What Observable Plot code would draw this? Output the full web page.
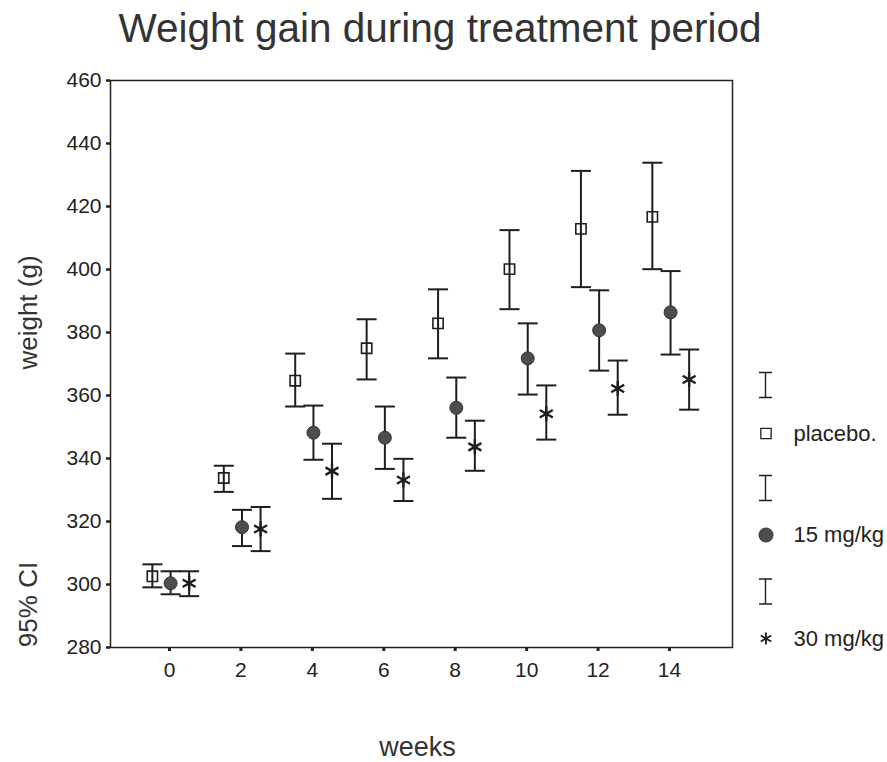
<!DOCTYPE html>
<html><head><meta charset="utf-8">
<script src="https://cdn.jsdelivr.net/npm/d3@7"></script>
<script src="https://cdn.jsdelivr.net/npm/@observablehq/plot@0.6"></script>
<style>
body{margin:0;background:#fff;}
#wrap{width:887px;height:762px;position:relative;font-family:"Liberation Sans",Arial,sans-serif;}
#title{height:62px;box-sizing:border-box;padding-top:8px;font-size:40.5px;line-height:40.5px;color:#333;text-align:center;width:880px;white-space:nowrap;}
#chart g[aria-label="y-axis tick label"], #chart g[aria-label="x-axis tick label"]{font-size:21px !important;}
</style></head><body>
<div id="wrap"><div id="title">Weight gain during treatment period</div><div id="chart"></div></div>
<script>
// ---- data ----
const weeks = [0, 2, 4, 6, 8, 10, 12, 14];
const seriesNames = ["placebo.", "15 mg/kg", "30 mg/kg"];
const placeboMean = [302.6, 333.8, 364.7, 375.0, 382.9, 400.1, 412.9, 416.7];
const placeboLo   = [299.1, 329.4, 356.5, 365.1, 371.8, 387.4, 394.4, 400.1];
const placeboHi   = [306.4, 337.7, 373.3, 384.2, 393.7, 412.5, 431.3, 433.9];
const mg15Mean = [300.4, 318.2, 348.2, 346.6, 356.1, 371.8, 380.7, 386.4];
const mg15Lo   = [296.9, 312.2, 339.6, 336.7, 346.6, 360.3, 367.9, 373.0];
const mg15Hi   = [304.2, 323.7, 356.8, 356.5, 365.7, 382.9, 393.4, 399.5];
const mg30Mean = [300.4, 317.6, 336.0, 333.2, 343.7, 354.2, 362.2, 365.1];
const mg30Lo   = [296.3, 310.6, 327.2, 326.5, 336.1, 346.0, 353.9, 355.5];
const mg30Hi   = [304.2, 324.6, 344.7, 339.9, 352.0, 363.2, 371.1, 374.6];
const xTickValues = [0, 2, 4, 6, 8, 10, 12, 14];
const yTickValues = [280, 300, 320, 340, 360, 380, 400, 420, 440, 460];

// ---- table for the library ----
const groupOffset = [-0.48, 0.03, 0.55]; // horizontal dodge (weeks) per group
const means = [placeboMean, mg15Mean, mg30Mean];
const los = [placeboLo, mg15Lo, mg30Lo];
const his = [placeboHi, mg15Hi, mg30Hi];
const rows = seriesNames.flatMap((s, si) => weeks.map((w, i) => ({
  series: s, x: w + groupOffset[si], mean: means[si][i], lo: los[si][i], hi: his[si][i]
})));

// ---- symbols ----
const ink = "#1e1e1e";
const capSymbol = {draw(ctx) { ctx.moveTo(-10, 0); ctx.lineTo(10, 0); }};
const legendBar = {draw(ctx) {
  ctx.moveTo(0, -12.5); ctx.lineTo(0, 12.5);
  ctx.moveTo(-6.5, -12.5); ctx.lineTo(6.5, -12.5);
  ctx.moveTo(-6.5, 12.5); ctx.lineTo(6.5, 12.5);
}};
const starSymbol = (a) => ({draw(ctx) {
  const u = a * Math.cos(Math.PI / 6), t = a / 2;
  ctx.moveTo(0, -a); ctx.lineTo(0, a);
  ctx.moveTo(-u, -t); ctx.lineTo(u, t);
  ctx.moveTo(-u, t); ctx.lineTo(u, -t);
}});
const style = {
  "placebo.": {symbol: "square", r: 5.8, fill: "none", stroke: ink, strokeWidth: 1.6, lr: 5.8, lsw: 1.3},
  "15 mg/kg": {symbol: "circle", r: 6.5, fill: "#4d4d4d", stroke: "#333", strokeWidth: 1, lr: 7, lsw: 1},
  "30 mg/kg": {symbol: starSymbol(7.5), r: 5, fill: "none", stroke: ink, strokeWidth: 2.4, lsym: starSymbol(6), lr: 5, lsw: 1.8}
};

const frameMidY = 363.5;
const legendBarDy = [21, 124, 227.5];
const legendMarkDy = [69.5, 171, 274.5];

const marks = [
  Plot.frame({stroke: "#222", strokeWidth: 1.5}),
  Plot.axisY({ticks: yTickValues, tickSize: 4, tickPadding: 5, strokeWidth: 2.5, fontSize: 21, label: null, fill: "#222"}),
  Plot.axisX({ticks: xTickValues, tickSize: 4, tickPadding: 11, strokeWidth: 3, fontSize: 21, label: null, fill: "#222"}),
  Plot.ruleX(rows, {x: "x", y1: "lo", y2: "hi", stroke: ink, strokeWidth: 2}),
  Plot.dot(rows, {x: "x", y: "hi", symbol: capSymbol, r: 1, fill: "none", stroke: ink, strokeWidth: 2}),
  Plot.dot(rows, {x: "x", y: "lo", symbol: capSymbol, r: 1, fill: "none", stroke: ink, strokeWidth: 2}),
  Plot.text(["weeks"], {frameAnchor: "bottom", dy: 108, dx: -4, lineAnchor: "bottom", text: d => d, fontSize: 27, fill: "#333"}),
  Plot.text(["weight (g)"], {frameAnchor: "left", dx: -74, dy: 312 - frameMidY, rotate: -90, textAnchor: "middle", lineAnchor: "bottom", text: d => d, fontSize: 26, fill: "#333"}),
  Plot.text(["95% CI"], {frameAnchor: "left", dx: -74, dy: 604 - frameMidY, rotate: -90, textAnchor: "middle", lineAnchor: "bottom", text: d => d, fontSize: 26, fill: "#333"})
];
seriesNames.forEach((s, si) => {
  const st = style[s];
  marks.push(Plot.dot(rows.filter(d => d.series === s), {x: "x", y: "mean", symbol: st.symbol, r: st.r, fill: st.fill, stroke: st.stroke, strokeWidth: st.strokeWidth}));
  marks.push(Plot.dot([s], {frameAnchor: "right", dx: 33, dy: legendBarDy[si], symbol: legendBar, r: 1, fill: "none", stroke: ink, strokeWidth: 1.4}));
  marks.push(Plot.dot([s], {frameAnchor: "right", dx: 33.5, dy: legendMarkDy[si], symbol: st.lsym || st.symbol, r: st.lr, fill: st.fill, stroke: st.stroke, strokeWidth: st.lsw}));
  marks.push(Plot.text([s], {frameAnchor: "right", dx: 61, dy: legendMarkDy[si], text: d => d, textAnchor: "start", lineAnchor: "middle", fontSize: 22, fill: "#222"}));
});

const chart = Plot.plot({
  width: 887, height: 700,
  marginTop: 18, marginBottom: 115, marginLeft: 110, marginRight: 155,
  style: {fontFamily: "'Liberation Sans', Arial, sans-serif", fontSize: "21px", color: "#222", background: "white", overflow: "visible"},
  x: {domain: [-1.652, 15.764]},
  y: {domain: [280, 460]},
  marks
});
document.getElementById("chart").appendChild(chart);
</script>
</body></html>
